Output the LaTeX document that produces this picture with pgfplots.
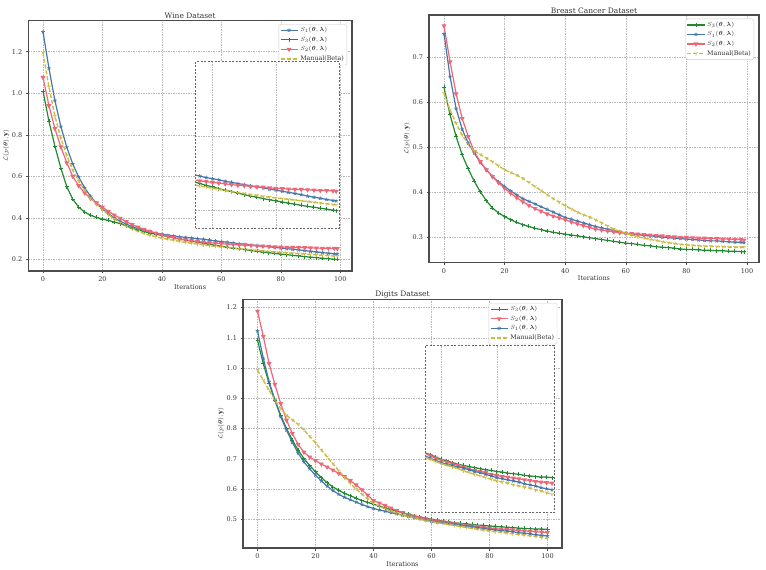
\documentclass[border=0pt]{standalone}
\usepackage{pgfplots}
\pgfplotsset{compat=1.18}
\usepackage{pgfplotstable}
\usepackage{amsmath}
\usepackage{fontspec}
\setmainfont{DejaVu Serif}
\usetikzlibrary{plotmarks}
\definecolor{tblue}{HTML}{4477AA}
\definecolor{tgreen}{HTML}{228833}
\definecolor{tred}{HTML}{EE6677}
\definecolor{tyellow}{HTML}{CCBB44}

\pgfplotstableread{
x s1 s3 s2 m
0 1.295 1.010 1.076 1.195
2 1.120 0.865 0.940 1.030
4 0.965 0.745 0.830 0.890
6 0.840 0.640 0.742 0.785
8 0.740 0.550 0.665 0.700
10 0.660 0.490 0.600 0.632
12 0.597 0.452 0.555 0.578
14 0.545 0.428 0.520 0.533
16 0.504 0.413 0.494 0.496
18 0.470 0.402 0.472 0.465
20 0.443 0.394 0.452 0.440
22 0.421 0.388 0.432 0.416
24 0.400 0.380 0.414 0.395
26 0.384 0.372 0.398 0.377
28 0.370 0.362 0.382 0.360
30 0.358 0.350 0.368 0.346
32 0.349 0.342 0.356 0.335
34 0.341 0.334 0.345 0.325
36 0.334 0.327 0.335 0.316
38 0.327 0.321 0.326 0.309
40 0.321 0.316 0.318 0.302
42 0.317 0.310 0.311 0.297
44 0.313 0.304 0.305 0.292
46 0.309 0.299 0.299 0.287
48 0.306 0.293 0.294 0.282
50 0.303 0.288 0.290 0.278
52 0.300 0.283 0.286 0.274
54 0.297 0.278 0.283 0.270
56 0.293 0.273 0.280 0.266
58 0.289 0.268 0.278 0.263
60 0.286 0.264 0.276 0.260
62 0.283 0.259 0.274 0.257
64 0.279 0.255 0.272 0.254
66 0.276 0.251 0.270 0.251
68 0.273 0.247 0.268 0.248
70 0.270 0.243 0.267 0.246
72 0.267 0.239 0.265 0.243
74 0.264 0.236 0.264 0.241
76 0.261 0.232 0.263 0.238
78 0.258 0.229 0.261 0.236
80 0.255 0.226 0.260 0.234
82 0.252 0.223 0.259 0.232
84 0.249 0.220 0.258 0.230
86 0.246 0.217 0.257 0.228
88 0.243 0.214 0.257 0.226
90 0.239 0.211 0.256 0.224
92 0.236 0.209 0.255 0.222
94 0.233 0.206 0.254 0.220
96 0.230 0.204 0.254 0.218
98 0.227 0.201 0.253 0.216
99 0.226 0.200 0.252 0.215
}\wine

\pgfplotstableread{
x s3 s1 s2 m
0 0.633 0.752 0.770 0.620
2 0.572 0.657 0.690 0.583
4 0.524 0.586 0.619 0.553
6 0.483 0.540 0.564 0.527
8 0.452 0.509 0.524 0.507
10 0.424 0.487 0.490 0.492
12 0.401 0.466 0.468 0.484
14 0.381 0.450 0.450 0.476
16 0.365 0.435 0.435 0.468
18 0.354 0.423 0.421 0.459
20 0.346 0.413 0.409 0.450
22 0.339 0.403 0.398 0.444
24 0.333 0.394 0.388 0.438
26 0.328 0.386 0.379 0.431
28 0.324 0.380 0.371 0.422
30 0.320 0.374 0.364 0.413
32 0.317 0.368 0.358 0.404
34 0.314 0.362 0.352 0.395
36 0.311 0.356 0.347 0.386
38 0.309 0.350 0.343 0.378
40 0.307 0.344 0.339 0.370
42 0.305 0.340 0.334 0.363
44 0.303 0.336 0.330 0.356
46 0.301 0.332 0.326 0.350
48 0.299 0.328 0.322 0.345
50 0.297 0.324 0.318 0.339
52 0.295 0.321 0.316 0.332
54 0.293 0.318 0.314 0.325
56 0.291 0.315 0.312 0.318
58 0.289 0.312 0.310 0.313
60 0.287 0.309 0.309 0.309
62 0.286 0.307 0.308 0.305
64 0.284 0.306 0.307 0.301
66 0.282 0.304 0.306 0.298
68 0.281 0.303 0.305 0.295
70 0.279 0.302 0.304 0.293
72 0.278 0.300 0.303 0.290
74 0.277 0.299 0.302 0.288
76 0.276 0.298 0.301 0.286
78 0.274 0.297 0.300 0.284
80 0.273 0.296 0.300 0.283
82 0.273 0.295 0.299 0.282
84 0.272 0.294 0.298 0.281
86 0.271 0.293 0.298 0.280
88 0.271 0.292 0.297 0.280
90 0.270 0.292 0.297 0.279
92 0.270 0.291 0.296 0.279
94 0.269 0.290 0.296 0.278
96 0.269 0.289 0.295 0.278
98 0.268 0.289 0.295 0.278
99 0.268 0.288 0.294 0.278
}\breast

\pgfplotstableread{
x s3 s2 s1 m
0 1.092 1.188 1.123 0.993
2 1.015 1.105 1.032 0.960
4 0.949 1.015 0.955 0.927
6 0.894 0.946 0.894 0.894
8 0.844 0.883 0.839 0.866
10 0.800 0.828 0.795 0.844
12 0.762 0.784 0.755 0.829
14 0.729 0.748 0.719 0.814
16 0.701 0.722 0.690 0.796
18 0.678 0.706 0.667 0.774
20 0.657 0.694 0.646 0.753
22 0.638 0.683 0.627 0.730
24 0.621 0.673 0.610 0.707
26 0.607 0.663 0.595 0.684
28 0.596 0.652 0.583 0.661
30 0.586 0.641 0.573 0.639
32 0.578 0.628 0.565 0.619
34 0.570 0.614 0.557 0.600
36 0.562 0.598 0.549 0.583
38 0.556 0.580 0.542 0.567
40 0.550 0.562 0.536 0.553
42 0.544 0.554 0.531 0.543
44 0.538 0.546 0.527 0.535
46 0.532 0.537 0.522 0.527
48 0.527 0.529 0.518 0.520
50 0.522 0.522 0.514 0.514
52 0.517 0.516 0.510 0.509
54 0.512 0.511 0.506 0.504
56 0.508 0.506 0.502 0.500
58 0.504 0.502 0.498 0.496
60 0.500 0.498 0.494 0.492
62 0.497 0.495 0.491 0.489
64 0.494 0.492 0.489 0.486
66 0.491 0.489 0.486 0.483
68 0.489 0.486 0.484 0.479
70 0.487 0.483 0.481 0.476
72 0.485 0.480 0.478 0.473
74 0.483 0.478 0.476 0.470
76 0.481 0.476 0.473 0.467
78 0.480 0.473 0.470 0.464
80 0.478 0.471 0.467 0.461
82 0.477 0.469 0.465 0.459
84 0.475 0.468 0.463 0.457
86 0.474 0.466 0.461 0.454
88 0.473 0.465 0.459 0.452
90 0.471 0.463 0.456 0.450
92 0.470 0.462 0.454 0.448
94 0.469 0.460 0.452 0.445
96 0.468 0.459 0.449 0.443
98 0.468 0.458 0.447 0.440
100 0.467 0.457 0.445 0.437
}\digits

\pgfplotsset{
  sone/.style={tblue, line width=1.2pt, mark=star, mark size=1.9pt, mark options={solid, line width=0.7pt}},
  sthree/.style={tgreen, line width=1.2pt, mark=+, mark size=2pt, mark options={solid, line width=0.9pt}},
  stwo/.style={tred, line width=1.2pt, mark=triangle*, mark size=1.7pt, mark options={solid, rotate=180}},
  sman/.style={tyellow, line width=1.4pt, dash pattern=on 4pt off 2pt, mark=Mercedes star flipped, mark size=2pt, mark options={solid, line width=0.7pt}},
  mainax/.style={
    scale only axis, anchor=north west,
    axis line style={line width=1.1pt, black!70},
    grid=major, grid style={dash pattern=on 1.5pt off 1pt, gray!55, line width=0.4pt},
    tick align=outside, tick pos=left, major tick length=2.5pt,
    tick style={black!70, line width=0.5pt},
    ticklabel style={font=\fontsize{6.5}{7}\selectfont, text=black!80},
    yticklabel style={/pgf/number format/.cd, fixed, fixed zerofill, precision=1},
    /pgf/number format/assume math mode=true,
    title style={font=\fontsize{7.5}{8}\selectfont, yshift=-8pt, text=black!80},
    label style={font=\fontsize{6.5}{7}\selectfont, text=black!80},
    xlabel={Iterations}, ylabel={$\mathcal{L}(p(\boldsymbol{\theta}),\mathbf{y})$},
    xlabel shift=-4pt, ylabel shift=-4pt,
    xtick={0,20,40,60,80,100},
    legend style={at={(0.985,0.985)}, anchor=north east, draw=black!20, rounded corners=1.5pt,
      font=\fontsize{6.3}{7}\selectfont, fill=white, inner sep=1pt, row sep=-0.5pt, text=black!80},
    legend cell align=left,
  },
  insetax/.style={
    scale only axis, anchor=north west,
    axis background/.style={fill=white},
    axis line style={dash pattern=on 2pt off 1.5pt, black!60, line width=0.7pt},
    grid=major, grid style={dash pattern=on 1.5pt off 1pt, gray!55, line width=0.4pt},
    xticklabels={}, yticklabels={}, major tick length=0pt,
    clip marker paths=true,
  },
}

\begin{document}
\begin{tikzpicture}
\useasboundingbox (0pt,0pt) rectangle (766pt,570pt);

% Wine
\begin{axis}[mainax, at={(28.3pt,549.7pt)}, width=323.7pt, height=250.7pt,
  xmin=-4.95, xmax=103.95, ymin=0.1445, ymax=1.351,
  ytick={0.2,0.4,0.6,0.8,1.0,1.2}, title={Wine Dataset}]
\addplot[sone] table[x=x,y=s1] {\wine};
\addlegendentry{$S_1(\boldsymbol{\theta},\boldsymbol{\lambda})$}
\addplot[sthree] table[x=x,y=s3] {\wine};
\addlegendentry{$S_3(\boldsymbol{\theta},\boldsymbol{\lambda})$}
\addplot[stwo] table[x=x,y=s2] {\wine};
\addlegendentry{$S_2(\boldsymbol{\theta},\boldsymbol{\lambda})$}
\addplot[sman] table[x=x,y=m] {\wine};
\addlegendentry{Manual(Beta)}
\end{axis}
\begin{axis}[insetax, at={(195.7pt,508.3pt)}, width=143.6pt, height=166.6pt,
  xmin=54.7, xmax=100, ymin=0.152, ymax=0.602, xtick={60,80}, ytick={0.2,0.4}]
\addplot[sone] table[x=x,y=s1] {\wine};
\addplot[sthree] table[x=x,y=s3] {\wine};
\addplot[stwo] table[x=x,y=s2] {\wine};
\addplot[sman] table[x=x,y=m] {\wine};
\end{axis}

% Breast Cancer
\begin{axis}[mainax, at={(429pt,555pt)}, width=330pt, height=247.3pt,
  xmin=-4.95, xmax=103.95, ymin=0.2444, ymax=0.794,
  ytick={0.3,0.4,0.5,0.6,0.7}, title={Breast Cancer Dataset}]
\addplot[sthree] table[x=x,y=s3] {\breast};
\addlegendentry{$S_3(\boldsymbol{\theta},\boldsymbol{\lambda})$}
\addplot[sone] table[x=x,y=s1] {\breast};
\addlegendentry{$S_1(\boldsymbol{\theta},\boldsymbol{\lambda})$}
\addplot[stwo] table[x=x,y=s2] {\breast};
\addlegendentry{$S_2(\boldsymbol{\theta},\boldsymbol{\lambda})$}
\addplot[sman] table[x=x,y=m] {\breast};
\addlegendentry{Manual(Beta)}
\end{axis}

% Digits
\begin{axis}[mainax, at={(243pt,270.7pt)}, width=319pt, height=248.7pt,
  xmin=-5, xmax=105, ymin=0.4053, ymax=1.2274,
  ytick={0.5,0.6,0.7,0.8,0.9,1.0,1.1,1.2}, title={Digits Dataset}]
\addplot[sthree] table[x=x,y=s3] {\digits};
\addlegendentry{$S_3(\boldsymbol{\theta},\boldsymbol{\lambda})$}
\addplot[stwo] table[x=x,y=s2] {\digits};
\addlegendentry{$S_2(\boldsymbol{\theta},\boldsymbol{\lambda})$}
\addplot[sone] table[x=x,y=s1] {\digits};
\addlegendentry{$S_1(\boldsymbol{\theta},\boldsymbol{\lambda})$}
\addplot[sman] table[x=x,y=m] {\digits};
\addlegendentry{Manual(Beta)}
\end{axis}
\begin{axis}[insetax, at={(425.3pt,224.3pt)}, width=129pt, height=167pt,
  xmin=54.2, xmax=100.8, ymin=0.404, ymax=0.704, xtick={60,80}, ytick={0.5,0.6}]
\addplot[sthree] table[x=x,y=s3] {\digits};
\addplot[stwo] table[x=x,y=s2] {\digits};
\addplot[sone] table[x=x,y=s1] {\digits};
\addplot[sman] table[x=x,y=m] {\digits};
\end{axis}
\end{tikzpicture}
\end{document}
